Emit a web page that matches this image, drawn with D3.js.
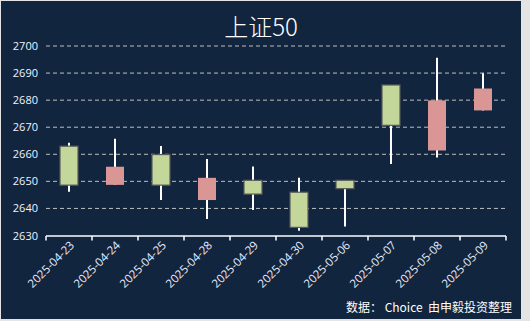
<!DOCTYPE html>
<html><head><meta charset="utf-8">
<script src="https://cdn.jsdelivr.net/npm/d3@7"></script>
<style>
html,body{margin:0;padding:0;background:#f2f2f2;}
svg{display:block;}
</style></head>
<body>
<svg id="c" width="530" height="321"></svg>
<script>
const dates = ["2025-04-23","2025-04-24","2025-04-25","2025-04-28","2025-04-29","2025-04-30","2025-05-06","2025-05-07","2025-05-08","2025-05-09"];
const openV  = [2663.0, 2648.7, 2659.9, 2643.1, 2650.4, 2646.0, 2650.4, 2685.6, 2661.4, 2676.2];
const highV  = [2664.3, 2665.7, 2663.1, 2658.3, 2655.5, 2651.3, 2650.4, 2685.6, 2695.7, 2689.9];
const lowV   = [2646.2, 2648.7, 2643.1, 2636.1, 2639.4, 2631.8, 2633.3, 2656.4, 2658.8, 2676.2];
const closeV = [2648.6, 2655.4, 2648.6, 2651.3, 2645.3, 2633.0, 2647.3, 2670.7, 2679.9, 2684.3];
const yTicks = [2630,2640,2650,2660,2670,2680,2690,2700];
const title = "上证50";
const source = "数据： Choice  由申毅投资整理";

const svg = d3.select("#c");
svg.append("rect").attr("x",0).attr("y",0).attr("width",530).attr("height",321).attr("fill","#e4e4e4");
svg.append("rect").attr("x",1).attr("y",1).attr("width",520).attr("height",318).attr("fill","#11253f");

const x = d3.scaleBand().domain(dates).range([46,506]).padding(0);
const y = d3.scaleLinear().domain([2630,2700]).range([235.5,46]);

// grid
svg.append("g").selectAll("line").data(yTicks.filter(d=>d>2630)).join("line")
  .attr("x1",46).attr("x2",506).attr("y1",d=>y(d)).attr("y2",d=>y(d))
  .attr("stroke","#bfbfbf").attr("stroke-width",1).attr("stroke-dasharray","4,3");

// y axis labels
const ya = svg.append("g").attr("transform","translate(44,0)")
  .call(d3.axisLeft(y).tickValues(yTicks).tickSize(0).tickPadding(6).tickFormat(d3.format("d")));
ya.select(".domain").remove();
ya.selectAll("text").attr("fill","#eef4ff").attr("font-family","'Open Sans','Noto Sans',sans-serif").attr("font-size","11px");

// candles
const data = dates.map((d,i)=>({d,o:openV[i],h:highV[i],l:lowV[i],c:closeV[i]}));
const bw = 18;
const g = svg.append("g");
g.selectAll("line.w").data(data).join("line").attr("class","w")
  .attr("x1",d=>x(d.d)+x.bandwidth()/2).attr("x2",d=>x(d.d)+x.bandwidth()/2)
  .attr("y1",d=>y(d.h)).attr("y2",d=>y(d.l))
  .attr("stroke","#ffffff").attr("stroke-width",2);
g.selectAll("rect.b").data(data).join("rect").attr("class","b")
  .attr("x",d=>x(d.d)+x.bandwidth()/2-bw/2).attr("width",bw)
  .attr("y",d=>y(Math.max(d.o,d.c))).attr("height",d=>Math.max(1,y(Math.min(d.o,d.c))-y(Math.max(d.o,d.c))))
  .attr("fill",d=>d.c>d.o?"#da9694":"#c4d79b")
  .attr("stroke",d=>d.c>d.o?"none":"#595959").attr("stroke-width",1.2);

// x axis
const xa = svg.append("g").attr("transform","translate(0,236)")
  .call(d3.axisBottom(x).tickSize(0).tickFormat(""));
xa.select(".domain").attr("stroke","#ffffff").attr("stroke-width",1.5).attr("d","M46,0H506");
svg.append("g").selectAll("line").data(d3.range(dates.length+1)).join("line")
  .attr("x1",i=>46+i*x.step()).attr("x2",i=>46+i*x.step()).attr("y1",236).attr("y2",240.5)
  .attr("stroke","#ffffff").attr("stroke-width",1.5);
svg.append("g").selectAll("text").data(dates).join("text")
  .attr("transform",d=>`translate(${x(d)+x.bandwidth()/2+6},${246}) rotate(-45)`)
  .attr("text-anchor","end").attr("fill","#e6efff")
  .attr("font-family","'Open Sans','Noto Sans',sans-serif").attr("font-size","11.5px")
  .text(d=>d);

// title
svg.append("text").attr("x",261).attr("y",36).attr("text-anchor","middle")
  .attr("fill","#ffffff").attr("font-family","'Noto Sans CJK SC',sans-serif").attr("font-size","24px")
  .attr("font-weight",300).text(title);

// source
svg.append("text").attr("x",512).attr("y",312).attr("text-anchor","end")
  .attr("fill","#ffffff").attr("font-family","'Noto Sans CJK SC',sans-serif").attr("font-size","12px")
  .attr("xml:space","preserve").style("white-space","pre")
  .text(source);
</script>
</body></html>
